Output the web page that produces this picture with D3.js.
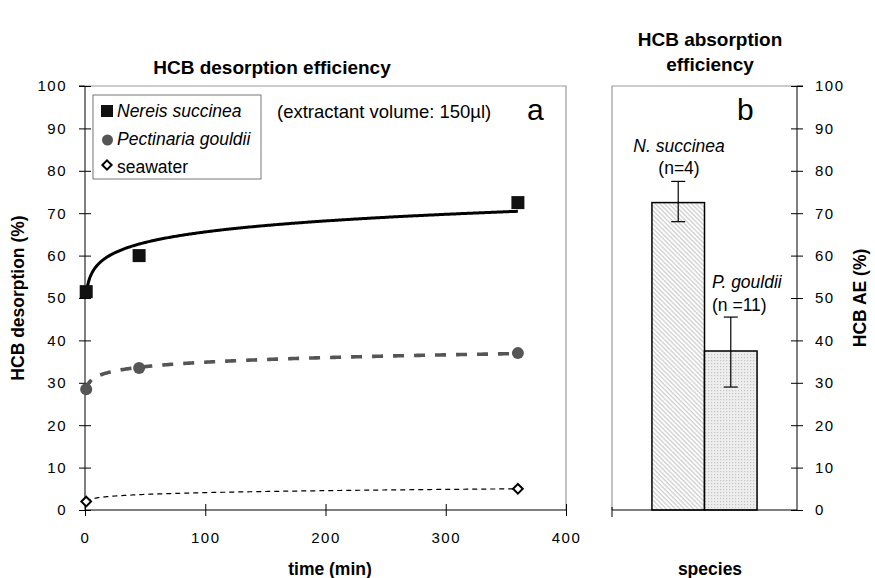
<!DOCTYPE html>
<html>
<head>
<meta charset="utf-8">
<script src="https://cdn.jsdelivr.net/npm/d3@7"></script>
<style>
  body { margin: 0; background: #fff; }
  svg { font-family: "Liberation Sans", Arial, sans-serif; }
  .tick text { font-size: 15px; letter-spacing: 1.5px; fill: #000; }
  .domain { stroke: #000; }
</style>
</head>
<body>
<div id="graph"></div>
<script>
(function(){
	"use strict";

	// panel a data: time (min) vs HCB desorption (%)
	var times = [1, 45, 360];
	var nereis = [51.5, 60, 72.5];
	var pectinaria = [28.5, 33.5, 37];
	var seaTimes = [1, 360];
	var seawater = [2, 5];
	var xTicks = [0, 100, 200, 300, 400];
	var yTicks = [0, 10, 20, 30, 40, 50, 60, 70, 80, 90, 100];

	// panel b data: absorption efficiency
	var species = ["N. succinea", "P. gouldii"];
	var aeMean = [72.5, 37.5];
	var aeHigh = [77.5, 45.5];
	var aeLow = [68, 29];

	var W = 875, H = 578;
	var svg = d3.select("#graph").append("svg").attr("width", W).attr("height", H);

	//fill patterns for the two bars
	var defs = svg.append("defs");
	var hatch = defs.append("pattern").attr("id", "hatch")
		.attr("patternUnits", "userSpaceOnUse").attr("width", 3.2).attr("height", 3.2)
		.attr("patternTransform", "rotate(45)");
	hatch.append("rect").attr("width", 3.2).attr("height", 3.2).attr("fill", "#fff");
	hatch.append("rect").attr("width", 3.2).attr("height", 1.3).attr("fill", "#cfcfcf");
	var dots = defs.append("pattern").attr("id", "dots")
		.attr("patternUnits", "userSpaceOnUse").attr("width", 3).attr("height", 3);
	dots.append("rect").attr("width", 3).attr("height", 3).attr("fill", "#eeeeee");
	dots.append("rect").attr("width", 1.2).attr("height", 1.2).attr("fill", "#c4c4c4");

	// ---------- panel a ----------
	var x = d3.scaleLinear().domain([0, 400]).range([85, 566]);
	var y = d3.scaleLinear().domain([0, 100]).range([510, 86]);

	// frame (top / right grey)
	svg.append("path")
		.attr("d", "M" + x(0) + "," + y(100) + "H" + x(400) + "V" + y(0))
		.attr("fill", "none").attr("stroke", "#999").attr("stroke-width", 1.2);

	var gx = svg.append("g").attr("transform", "translate(0," + y(0) + ")")
		.call(d3.axisBottom(x).tickValues(xTicks).tickSize(6).tickPadding(16));
	gx.selectAll(".tick line").attr("y1", -6).attr("y2", 6);
	gx.select(".domain").attr("d", "M" + x(0) + ",0H" + x(400));

	var gy = svg.append("g").attr("transform", "translate(" + x(0) + ",0)")
		.call(d3.axisLeft(y).tickValues(yTicks).tickSize(6).tickPadding(12));
	gy.selectAll(".tick line").attr("x1", -6).attr("x2", 6);
	gy.select(".domain").attr("d", "M0," + y(0) + "V" + y(100) + "h-6");

	// power trend lines (least squares on log-log, like a spreadsheet trendline)
	function powerFit(xs, ys) {
		var lx = xs.map(Math.log), ly = ys.map(Math.log);
		var mx = d3.mean(lx), my = d3.mean(ly);
		var b = d3.sum(lx, function(v, i) { return (v - mx) * (ly[i] - my); }) /
			d3.sum(lx, function(v) { return (v - mx) * (v - mx); });
		var a = Math.exp(my - b * mx);
		return function(t) { return a * Math.pow(t, b); };
	}
	function trend(xs, ys) {
		var f = powerFit(xs, ys);
		return d3.range(1, 361, 1).map(function(t) { return [t, f(t)]; });
	}
	var line = d3.line().x(function(d) { return x(d[0]); }).y(function(d) { return y(d[1]); });

	svg.append("path").datum(trend(seaTimes, seawater)).attr("d", line)
		.attr("fill", "none").attr("stroke", "#000").attr("stroke-width", 1.2)
		.attr("stroke-dasharray", "5,4");
	svg.append("path").datum(trend(times, pectinaria)).attr("d", line)
		.attr("fill", "none").attr("stroke", "#555").attr("stroke-width", 3.6)
		.attr("stroke-dasharray", "11,10");
	svg.append("path").datum(trend(times, nereis)).attr("d", line)
		.attr("fill", "none").attr("stroke", "#000").attr("stroke-width", 3);

	// markers
	svg.selectAll(".sq").data(times).enter().append("rect")
		.attr("x", function(d) { return x(d) - 6.5; })
		.attr("y", function(d, i) { return y(nereis[i]) - 6.5; })
		.attr("width", 13).attr("height", 13).attr("fill", "#111");
	svg.selectAll(".ci").data(times).enter().append("circle")
		.attr("cx", function(d) { return x(d); })
		.attr("cy", function(d, i) { return y(pectinaria[i]); })
		.attr("r", 6).attr("fill", "#555");
	var diamond = d3.symbol().type(d3.symbolDiamond2).size(60);
	svg.selectAll(".di").data(seaTimes).enter().append("path")
		.attr("transform", function(d, i) { return "translate(" + x(d) + "," + y(seawater[i]) + ")"; })
		.attr("d", diamond).attr("fill", "#fff").attr("stroke", "#000").attr("stroke-width", 2);

	// legend
	var lg = svg.append("g").attr("transform", "translate(93,95)");
	lg.append("rect").attr("width", 168).attr("height", 84)
		.attr("fill", "#fff").attr("stroke", "#777").attr("stroke-width", 1);
	lg.append("rect").attr("x", 8).attr("y", 10).attr("width", 12).attr("height", 12).attr("fill", "#111");
	lg.append("circle").attr("cx", 14.5).attr("cy", 45).attr("r", 5.5).attr("fill", "#555");
	lg.append("path").attr("transform", "translate(14,70)").attr("d", d3.symbol().type(d3.symbolDiamond2).size(55))
		.attr("fill", "#fff").attr("stroke", "#000").attr("stroke-width", 2);
	var legendLabels = ["Nereis succinea", "Pectinaria gouldii", "seawater"];
	lg.selectAll("text").data(legendLabels).enter().append("text")
		.attr("x", 24).attr("y", function(d, i) { return 22 + i * 28; })
		.style("font-size", "17.5px")
		.style("font-style", function(d, i) { return i < 2 ? "italic" : "normal"; })
		.text(function(d) { return d; });

	svg.append("text").attr("x", 277).attr("y", 118).style("font-size", "18.5px")
		.text("(extractant volume: 150\u00b5l)");
	svg.append("text").attr("x", 527).attr("y", 120).style("font-size", "30px").text("a");

	svg.append("text").attr("x", 272).attr("y", 74).attr("text-anchor", "middle")
		.style("font-size", "19px").style("font-weight", "bold").text("HCB desorption efficiency");
	svg.append("text").attr("x", 330).attr("y", 575).attr("text-anchor", "middle")
		.style("font-size", "17.5px").style("font-weight", "bold").text("time  (min)");
	svg.append("text").attr("transform", "translate(24,298) rotate(-90)").attr("text-anchor", "middle")
		.style("font-size", "17.5px").style("font-weight", "bold").text("HCB desorption (%)");

	// ---------- panel b ----------
	var xb = d3.scaleBand().domain(species).range([612, 797]).paddingInner(0).paddingOuter(0.76);
	var yb = d3.scaleLinear().domain([0, 100]).range([510, 86]);

	svg.append("path")
		.attr("d", "M612," + yb(0) + "V" + yb(100) + "H797")
		.attr("fill", "none").attr("stroke", "#999").attr("stroke-width", 1.2);

	var patterns = ["url(#hatch)", "url(#dots)"];
	svg.selectAll(".bar").data(species).enter().append("rect")
		.attr("x", function(d) { return xb(d); })
		.attr("y", function(d, i) { return yb(aeMean[i]); })
		.attr("width", xb.bandwidth())
		.attr("height", function(d, i) { return yb(0) - yb(aeMean[i]); })
		.attr("fill", function(d, i) { return patterns[i]; })
		.attr("stroke", "#000").attr("stroke-width", 1.5);

	var err = svg.selectAll(".err").data(species).enter().append("g");
	err.append("line")
		.attr("x1", function(d) { return xb(d) + xb.bandwidth() / 2; })
		.attr("x2", function(d) { return xb(d) + xb.bandwidth() / 2; })
		.attr("y1", function(d, i) { return yb(aeHigh[i]); })
		.attr("y2", function(d, i) { return yb(aeLow[i]); })
		.attr("stroke", "#000").attr("stroke-width", 1.2);
	[aeHigh, aeLow].forEach(function(arr) {
		err.append("line")
			.attr("x1", function(d) { return xb(d) + xb.bandwidth() / 2 - 7; })
			.attr("x2", function(d) { return xb(d) + xb.bandwidth() / 2 + 7; })
			.attr("y1", function(d, i) { return yb(arr[i]); })
			.attr("y2", function(d, i) { return yb(arr[i]); })
			.attr("stroke", "#000").attr("stroke-width", 1.2);
	});

	var gb = svg.append("g").attr("transform", "translate(0," + yb(0) + ")")
		.call(d3.axisBottom(xb).tickValues([]).tickSizeOuter(0));
	gb.select(".domain").attr("d", "M612,0H797");
	gb.append("line").attr("x1", 612).attr("x2", 612).attr("y1", -3).attr("y2", 7).attr("stroke", "#000");

	var gyb = svg.append("g").attr("transform", "translate(797,0)")
		.call(d3.axisRight(yb).tickValues(yTicks).tickSize(6).tickPadding(12));
	gyb.selectAll(".tick line").attr("x1", -6).attr("x2", 6);
	gyb.select(".domain").attr("d", "M0," + yb(0) + "V" + yb(100) + "h6");

	svg.append("text").attr("x", 737).attr("y", 120).style("font-size", "30px").text("b");
	svg.append("text").attr("x", 679).attr("y", 152).attr("text-anchor", "middle")
		.style("font-size", "17.5px").style("font-style", "italic").text("N. succinea");
	svg.append("text").attr("x", 679).attr("y", 174).attr("text-anchor", "middle")
		.style("font-size", "17.5px").text("(n=4)");
	svg.append("text").attr("x", 712).attr("y", 288)
		.style("font-size", "17.5px").style("font-style", "italic").text("P. gouldii");
	svg.append("text").attr("x", 712).attr("y", 311)
		.style("font-size", "17.5px").text("(n =11)");

	svg.append("text").attr("x", 710).attr("y", 46).attr("text-anchor", "middle")
		.style("font-size", "19px").style("font-weight", "bold").text("HCB absorption");
	svg.append("text").attr("x", 710).attr("y", 71).attr("text-anchor", "middle")
		.style("font-size", "19px").style("font-weight", "bold").text("efficiency");
	svg.append("text").attr("x", 710).attr("y", 575).attr("text-anchor", "middle")
		.style("font-size", "17.5px").style("font-weight", "bold").text("species");
	svg.append("text").attr("transform", "translate(866,298) rotate(-90)").attr("text-anchor", "middle")
		.style("font-size", "17.5px").style("font-weight", "bold").text("HCB AE (%)");
})();
</script>
</body>
</html>
